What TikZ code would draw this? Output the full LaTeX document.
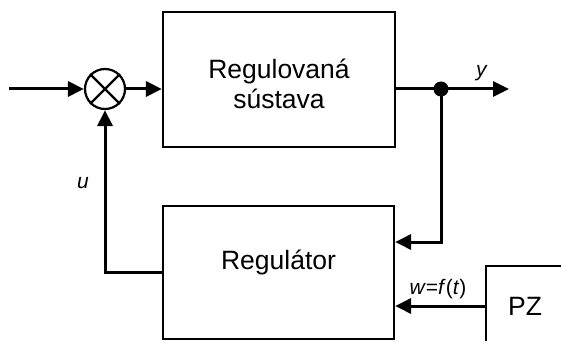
\documentclass[tikz,border=0pt]{standalone}
\usepackage{fontspec}
\setmainfont{Liberation Sans}
\usepackage{tikz}
\usetikzlibrary{arrows.meta, positioning, calc}

\begin{document}
\begin{tikzpicture}[
    x=1pt, y=1pt,
    blok/.style={rectangle, draw=black, line width=2.2pt, inner sep=0pt,
      font=\fontsize{26.5}{30}\selectfont, align=center},
    sucet/.style={circle, draw=black, line width=2.2pt, minimum size=40pt, inner sep=0pt},
    bod/.style={circle, fill=black, minimum size=15pt, inner sep=0pt},
    popis/.style={font=\fontsize{21}{24}\selectfont, inner sep=0pt},
    sipka/.style={-{Triangle[length=16pt, width=15pt]}, line width=3pt}
  ]
  \useasboundingbox (0,0) rectangle (561,340);
  \clip (0,0) rectangle (561,340);
  \node[blok, minimum width=232pt, minimum height=135pt,
    label={[blok, draw=none, yshift=-4pt]center:Regulovaná\\sústava}] (sustava) at (279,260.5) {};
  \node[blok, minimum width=231pt, minimum height=133pt,
    label={[blok, draw=none, yshift=10pt]center:Regulátor}] (reg) at (278.5,67.5) {};
  \node[blok, minimum width=78pt, minimum height=80pt] (pz) at (525,34) {PZ};
  \node[sucet] (sum) at (105,251) {};
  \draw[line width=2.2pt] (sum.45) -- (sum.225) (sum.135) -- (sum.315);
  \node[bod] (odb) at (441,251) {};
  \coordinate (vstup) at (9,251);
  \coordinate (vystup) at (509,251);
  \coordinate (spat) at (441,98);
  \draw[sipka] (vstup) -- (sum.west);
  \draw[sipka] (sum.east) -- (sum.east -| sustava.west);
  \draw[sipka] (odb -| sustava.east) -- (vystup);
  \draw[sipka] (odb.center) -- (spat) -- (spat -| reg.east);
  \draw[sipka] (reg.west) -| (sum.south);
  \draw[sipka] (pz.west) -- (pz.west -| reg.east);
  \node[popis] (ylab) at (482,267) {\textit{y}};
  \node[popis] (ulab) at (83,157) {\textit{u}};
  \node[popis] (wlab) at (438,50.5) {\textit{w}=\textit{f}(\textit{t})};
\end{tikzpicture}
\end{document}
